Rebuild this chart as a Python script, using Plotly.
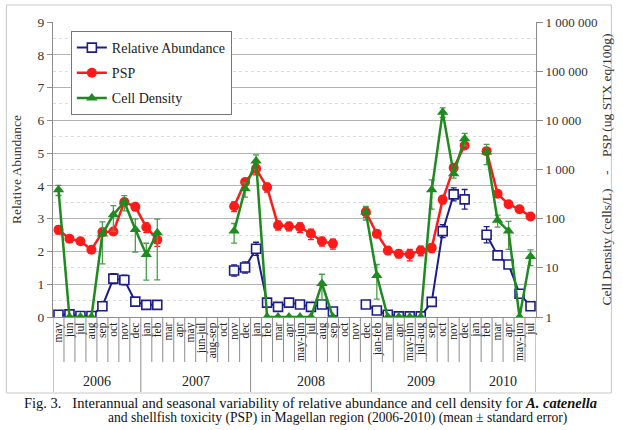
import plotly.graph_objects as go

# ---------------- data ----------------
months = ["may", "jun", "jul", "aug", "sep", "oct", "nov", "dec",
          "jan", "feb", "mar", "apr", "may", "jun-jul", "aug-sep", "oct", "nov", "dec",
          "jan", "feb", "mar", "apr", "may-jun", "jul", "aug", "sep", "oct", "nov", "dec",
          "jan-feb", "mar", "apr", "may-jun", "jul-aug", "sep", "oct", "nov", "dec",
          "jan", "feb", "mar", "apr", "may-jun", "jul"]
years = ["2006", "2007", "2008", "2009", "2010"]
year_counts = [8, 10, 11, 9, 6]

N = None
rel_abundance = [0.07, 0.08, 0.03, 0.03, 0.33, 1.17, 1.13, 0.47, 0.37, 0.37,
                 N, N, N, N, N, N,
                 1.42, 1.51, 2.08, 0.44, 0.31, 0.44, 0.38, 0.31, 0.38, 0.17,
                 N, N,
                 0.38, 0.20, 0.07, 0.02, 0.02, 0.02, 0.46, 2.62, 3.74, 3.59,
                 N,
                 2.51, 1.88, 1.60, 0.71, 0.33]
rel_abundance_se = [0.03, 0.04, 0.02, 0.02, 0.05, 0.15, 0.15, 0.06, 0.04, 0.04,
                    N, N, N, N, N, N,
                    0.17, 0.17, 0.20, 0.06, 0.04, 0.05, 0.04, 0.04, 0.04, 0.04,
                    N, N,
                    0.03, 0.03, 0.03, 0.02, 0.02, 0.02, 0.06, 0.20, 0.20, 0.30,
                    N,
                    0.25, 0.10, 0.10, 0.05, 0.03]

psp = [59.3, 39.2, 34.7, 23.3, 53.3, 55.0, 219, 174, 67.1, 37.4,
       N, N, N, N, N, N,
       179, 558, 1031, 437, 73.6, 70.3, 67.1, 49.4, 34.7, 31.1,
       N, N,
       136, 49.4, 22.6, 19.4, 18.8, 22.6, 25.5, 244, 1080, 3068,
       N,
       2363, 321, 196, 156, 111]
psp_se = [11, 5, 4, 3, 8, 8, 35, 25, 15, 10,
          N, N, N, N, N, N,
          40, 90, 250, 90, 15, 14, 15, 12, 7, 7,
          N, N,
          30, 8, 4, 3.5, 5, 5, 5, 45, 130, 300,
          N,
          350, 40, 25, 20, 15]

cell_density = [386, 1, 1, 1, 49, 120, 219, 60, 18.6, 51.7,
                N, N, N, N, N, N,
                55.8, 404, 1490, 1, 1, 1, 1, 1, 4.8, 1,
                N, N,
                136, 7.0, 1, 1, 1, 1, 386, 14680, 819, 4235,
                N,
                2257, 92.6, 55.8, 1, 17.1]
cell_density_se = [90, 0, 0, 0, 37, 65, 75, 39, 13, 46,
                   N, N, N, N, N, N,
                   24, 130, 500, 0, 0, 0, 0, 0, 2.6, 0,
                   N, N,
                   42, 4.7, 0, 0, 0, 0, 230, 3200, 150, 1200,
                   N,
                   1000, 25, 32, 0, 6]

right_tick_vals = [1, 10, 100, 1000, 10000, 100000, 1000000]
right_tick_text = ["1", "10", "100", "1 000", "10 000", "100 000", "1 000 000"]

# ---------------- layout constants ----------------
W, H = 623, 430
ML, MR, MT, MB = 53, 83, 22, 113
PW, PH = W - ML - MR, H - MT - MB
FONT = "Liberation Serif"
BLUE = "#1c1c8c"
RED = "#ff1a1a"
GREEN = "#1f8a1f"

def px_x(p):
    return (p - ML) / PW

def px_y(p):
    return (H - MB - p) / PH

x = list(range(len(months)))

fig = go.Figure()

fig.add_trace(go.Scatter(
    x=x, y=rel_abundance, name="Relative Abundance", mode="lines+markers",
    line=dict(color=BLUE, width=2),
    marker=dict(symbol="square", size=9, color="white", line=dict(color=BLUE, width=1.6)),
    error_y=dict(type="data", array=rel_abundance_se, visible=True, color=BLUE, thickness=1.3, width=3),
    connectgaps=False, legendgroup="a", yaxis="y"))

fig.add_trace(go.Scatter(
    x=x, y=psp, name="PSP", mode="lines+markers",
    line=dict(color=RED, width=2.5),
    marker=dict(symbol="circle", size=10, color=RED),
    error_y=dict(type="data", array=psp_se, visible=True, color=RED, thickness=1.3, width=3),
    connectgaps=False, legendgroup="b", yaxis="y2"))

fig.add_trace(go.Scatter(
    x=x, y=cell_density, name="Cell Density", mode="lines+markers",
    line=dict(color=GREEN, width=2.5),
    marker=dict(symbol="triangle-up", size=10, color=GREEN),
    error_y=dict(type="data", array=cell_density_se, visible=True, color="#4a9e4a", thickness=1.3, width=3),
    connectgaps=False, legendgroup="c", yaxis="y2"))

shapes = []
# category separators below the axis
boundaries_year = set()
acc = 0
for c in year_counts:
    boundaries_year.add(acc)
    acc += c
boundaries_year.add(acc)
for k in range(len(months) + 1):
    depth = 75 if k in boundaries_year else 45
    shapes.append(dict(type="line", xref="x", yref="paper",
                       x0=k - 0.5, x1=k - 0.5, y0=0, y1=-depth / PH,
                       line=dict(color="#8c8c8c", width=1)))
# chart frame
shapes.append(dict(type="rect", xref="paper", yref="paper",
                   x0=px_x(6), x1=px_x(616), y0=px_y(393), y1=px_y(5),
                   line=dict(color="#c8c8c8", width=1), layer="below"))

annotations = []
acc = 0
for yr, c in zip(years, year_counts):
    annotations.append(dict(x=acc + c / 2 - 0.5, y=px_y(381), xref="x", yref="paper",
                            text=yr, showarrow=False, yanchor="middle",
                            font=dict(family=FONT, size=14, color="#222")))
    acc += c
annotations.append(dict(x=px_x(22), y=px_y(403), xref="paper", yref="paper",
                        xanchor="left", yanchor="middle", showarrow=False,
                        text="Fig. 3.   Interannual and seasonal variability of relative abundance and cell density for <b><i>A. catenella</i></b>",
                        font=dict(family=FONT, size=14.5, color="#111")))
annotations.append(dict(x=px_x(106), y=px_y(418), xref="paper", yref="paper",
                        xanchor="left", yanchor="middle", showarrow=False,
                        text="and shellfish toxicity (PSP) in Magellan region (2006-2010) (mean ± standard error)",
                        font=dict(family=FONT, size=13.6, color="#111")))

fig.update_layout(
    width=W, height=H,
    margin=dict(l=ML, r=MR, t=MT, b=MB, pad=0),
    paper_bgcolor="white", plot_bgcolor="white",
    font=dict(family=FONT, size=13, color="#333"),
    showlegend=True,
    legend=dict(x=px_x(71), y=px_y(31), xanchor="left", yanchor="top",
                bgcolor="white", bordercolor="#777", borderwidth=1,
                font=dict(family=FONT, size=14, color="#222"),
                tracegroupgap=4, itemwidth=30),
    xaxis=dict(range=[-0.5, len(months) - 0.5], tickmode="array", tickvals=x, ticktext=months,
               tickangle=-90, ticks="", showgrid=False, zeroline=False,
               showline=True, linecolor="#8c8c8c", linewidth=1,
               tickfont=dict(family=FONT, size=11.5, color="#222")),
    yaxis=dict(range=[0, 9], dtick=1, ticks="outside", ticklen=5, tickcolor="#8c8c8c",
               showline=True, linecolor="#8c8c8c", linewidth=1,
               showgrid=True, gridcolor="#b4b4b4", gridwidth=1, zeroline=False,
               minor=dict(dtick=0.5, showgrid=True, gridcolor="#dcdcdc", griddash="dot", ticks=""),
               tickfont=dict(family=FONT, size=13.5, color="#333"),
               title=dict(text="Relative Abundance", standoff=12,
                          font=dict(family=FONT, size=13.5, color="#333"))),
    yaxis2=dict(type="log", range=[0, 6], overlaying="y", side="right", anchor="x",
                tickmode="array", tickvals=right_tick_vals, ticktext=right_tick_text,
                ticks="outside", ticklen=6, tickcolor="#8c8c8c",
                showline=True, linecolor="#8c8c8c", linewidth=1,
                showgrid=False, zeroline=False,
                tickfont=dict(family=FONT, size=13, color="#333"),
                title=dict(text="Cell Density (cells/L)    -    PSP (ug STX eq/100g)", standoff=4,
                           font=dict(family=FONT, size=13.5, color="#333"))),
    shapes=shapes,
    annotations=annotations,
)

fig.write_html("out.html")
